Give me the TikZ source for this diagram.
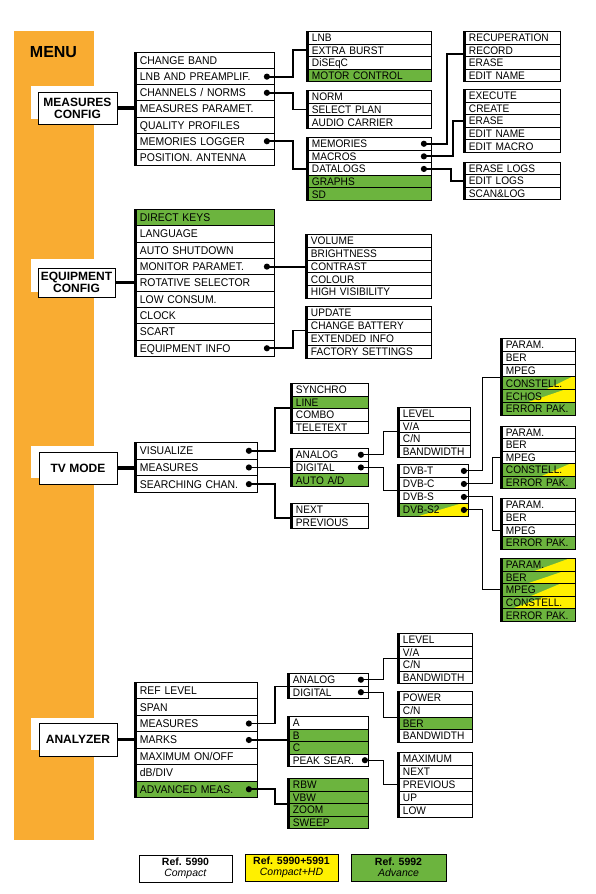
\documentclass[tikz,border=0pt]{standalone}
\usepackage{fontspec}
\setmainfont{Liberation Sans}
\newfontfamily\listfont[FakeStretch=0.93]{Liberation Sans}
\usetikzlibrary{calc}
\definecolor{orng}{RGB}{249,172,50}
\definecolor{grn}{RGB}{108,180,62}
\definecolor{ylw}{RGB}{255,240,0}
\tikzset{
  rowbox/.style={draw=black,line width=0.9pt,fill=white,anchor=north west,inner xsep=5.5pt,inner ysep=0pt,text depth=0pt,align=left},
  mainrow/.style={font=\listfont\fontsize{11.2}{11}\selectfont,text height=8pt},
  subrow/.style={font=\listfont\fontsize{10.9}{11}\selectfont,text height=7.8pt},
  wh/.style={},
  gr/.style={fill=grn},
  gy/.style 2 args={fill=grn,path picture={\fill[ylw] ($(path picture bounding box.south west)!#1!(path picture bounding box.south east)$) -- (path picture bounding box.south east) -- (path picture bounding box.north east) -- ($(path picture bounding box.north west)!#2!(path picture bounding box.north east)$) -- cycle;}},
  gyS/.style={gy={0.28}{0.9}},
  gyA/.style={gy={0.6}{0.95}},
  gyB/.style={gy={0.3}{0.8}},
  gyC/.style={gy={0.55}{0.93}},
  gyD/.style={gy={0.45}{0.92}},
  gyE/.style={gy={0.35}{0.85}},
  gyF/.style={gy={0.4}{0.8}},
  gyG/.style={gy={0.15}{0.6}},
  secbox/.style={draw=black,line width=1pt,fill=white,align=center,inner sep=0pt,font=\fontsize{12}{12}\selectfont\bfseries},
  legbox/.style={draw=black,line width=0.8pt,align=center,inner sep=0pt,minimum width=93pt,minimum height=27pt,font=\fontsize{10.5}{11}\selectfont},
  c1/.style={line width=1.8pt},
  c2/.style={line width=1pt},
  c0/.style={line width=3.5pt},
}
\newcommand\mlist[8]{%
  \pgfmathsetmacro\mytw{#4-11}%
  \foreach \rt/\rs [count=\ri] in {#8} {
    \node[rowbox,#7,\rs,minimum width=#4pt,text width=\mytw pt,minimum height=#5pt] (#1-\ri) at (#2,{#3+(\ri-1)*#5}) {\rt};
  }
  \fill (#2,#3) rectangle ({#2+3.2},{#3+#6*#5});
}
\newcommand\mydot[1]{\fill (#1) circle (3.1pt);}
\begin{document}
\begin{tikzpicture}[x=1pt,y=-1pt]
\path[use as bounding box] (0,0) rectangle (595,894);
\fill[orng] (14,31) rectangle (94,840);
\node[font=\fontsize{16}{16}\selectfont\bfseries] (menu) at (53.5,52.5) {MENU};

% ---------- MEASURES CONFIG ----------
\fill[white] (31,86) rectangle (94,119);
\node[secbox,minimum width=79pt,minimum height=32pt] (MC) at (77.5,108) {MEASURES\\CONFIG};
\mlist{ML}{134}{52}{140}{16.14}{7}{mainrow}{CHANGE BAND/wh, LNB AND PREAMPLIF./wh, {CHANNELS / NORMS}/wh, MEASURES PARAMET./wh, QUALITY PROFILES/wh, MEMORIES LOGGER/wh, POSITION. ANTENNA/wh}
\mlist{LNB}{306}{31}{125}{12.5}{4}{subrow}{LNB/wh, EXTRA BURST/wh, DiSEqC/wh, MOTOR CONTROL/gr}
\mlist{NRM}{306}{90}{125}{12.67}{3}{subrow}{NORM/wh, SELECT PLAN/wh, AUDIO CARRIER/wh}
\mlist{MEM}{306}{137}{125}{12.6}{5}{subrow}{MEMORIES/wh, MACROS/wh, DATALOGS/wh, GRAPHS/gr, SD/gr}
\mlist{REC}{463}{31}{97}{12.5}{4}{subrow}{RECUPERATION/wh, RECORD/wh, ERASE/wh, EDIT NAME/wh}
\mlist{EXE}{463}{89}{97}{12.6}{5}{subrow}{EXECUTE/wh, CREATE/wh, ERASE/wh, EDIT NAME/wh, EDIT MACRO/wh}
\mlist{ERL}{463}{162}{97}{12.33}{3}{subrow}{ERASE LOGS/wh, EDIT LOGS/wh, SCAN\&LOG/wh}
\draw[c0] (MC.east) -- (MC.east -| ML-1.west);
\coordinate (dLNB) at ([xshift=-8pt]ML-2.east);
\coordinate (dCH) at ([xshift=-8pt]ML-3.east);
\coordinate (dML) at ([xshift=-8pt]ML-6.east);
\coordinate (dMEM) at ([xshift=-8pt]MEM-1.east);
\coordinate (dMAC) at ([xshift=-8pt]MEM-2.east);
\coordinate (dDAT) at ([xshift=-8pt]MEM-3.east);
\draw[c1] (dLNB) -- ++(26,0) |- (LNB-2.west);
\draw[c1] (dCH) -- ++(26,0) |- (NRM-2.west);
\draw[c1] (dML) -- ++(26,0) |- (MEM-3.west);
\draw[c1] (dMEM) -- ++(23,0) |- ([yshift=-4pt]REC-2.west);
\draw[c1] (dMAC) -- ++(29,0) |- (EXE-3.west);
\draw[c1] (dDAT) -- ++(27,0) |- (ERL-2.west);
\mydot{dLNB}\mydot{dCH}\mydot{dML}\mydot{dMEM}\mydot{dMAC}\mydot{dDAT}

% ---------- EQUIPMENT CONFIG ----------
\fill[white] (31,259) rectangle (94,292);
\node[secbox,minimum width=77pt,minimum height=29pt] (EC) at (76.5,282.5) {EQUIPMENT\\CONFIG};
\mlist{EL}{134}{209}{140}{16.33}{9}{mainrow}{DIRECT KEYS/gr, LANGUAGE/wh, AUTO SHUTDOWN/wh, MONITOR PARAMET./wh, ROTATIVE SELECTOR/wh, LOW CONSUM./wh, CLOCK/wh, SCART/wh, EQUIPMENT INFO/wh}
\mlist{VOL}{305}{234}{126}{12.8}{5}{subrow}{VOLUME/wh, BRIGHTNESS/wh, CONTRAST/wh, COLOUR/wh, HIGH VISIBILITY/wh}
\mlist{UPD}{305}{306}{126}{13}{4}{subrow}{UPDATE/wh, CHANGE BATTERY/wh, EXTENDED INFO/wh, FACTORY SETTINGS/wh}
\draw[c0] (EC.east) -- (EC.east -| EL-1.west);
\coordinate (dMON) at ([xshift=-8pt]EL-4.east);
\coordinate (dEQ) at ([xshift=-8pt]EL-9.east);
\draw[c1] (dMON) -- (dMON -| VOL-3.west);
\draw[c1] (dEQ) -- ++(26,0) |- ([yshift=-4.5pt]UPD-2.west);
\mydot{dMON}\mydot{dEQ}

% ---------- TV MODE ----------
\fill[white] (31,446) rectangle (94,478);
\node[secbox,minimum width=78pt,minimum height=32pt] (TV) at (78,468) {TV MODE};
\mlist{TL}{134}{442}{123}{16.67}{3}{mainrow}{VISUALIZE/wh, MEASURES/wh, SEARCHING CHAN./wh}
\mlist{SYN}{290}{383}{78}{12.5}{4}{subrow}{SYNCHRO/wh, LINE/gr, COMBO/wh, TELETEXT/wh}
\mlist{ANA}{290}{448}{78}{12.67}{3}{subrow}{ANALOG/wh, DIGITAL/wh, {AUTO A/D}/gr}
\mlist{NXT}{290}{503}{78}{12.5}{2}{subrow}{NEXT/wh, PREVIOUS/wh}
\mlist{LEV}{397}{407}{73}{12.5}{4}{subrow}{LEVEL/wh, {V/A}/wh, {C/N}/wh, BANDWIDTH/wh}
\mlist{DVB}{397}{464}{71}{13}{4}{subrow}{DVB-T/wh, DVB-C/wh, DVB-S/wh, DVB-S2/gyS}
\mlist{PA}{500}{338}{75}{12.83}{6}{subrow}{PARAM./wh, BER/wh, MPEG/wh, CONSTELL./gyA, ECHOS/gyE, ERROR PAK./gr}
\mlist{PB}{500}{426}{75}{12.4}{5}{subrow}{PARAM./wh, BER/wh, MPEG/wh, CONSTELL./gyC, ERROR PAK./gr}
\mlist{PC}{500}{498}{75}{12.75}{4}{subrow}{PARAM./wh, BER/wh, MPEG/wh, ERROR PAK./gr}
\mlist{PD}{500}{558}{75}{12.6}{5}{subrow}{PARAM./gyD, BER/gyE, MPEG/gyF, CONSTELL./gyG, ERROR PAK./gr}
\draw[c0] (TV.east) -- (TV.east -| TL-1.west);
\coordinate (dVIS) at ([xshift=-9pt]TL-1.east);
\coordinate (dMEA) at ([xshift=-9pt]TL-2.east);
\coordinate (dSRC) at ([xshift=-9pt]TL-3.east);
\coordinate (dANA) at ([xshift=-8pt]ANA-1.east);
\coordinate (dDIG) at ([xshift=-8pt]ANA-2.east);
\coordinate (dT) at ([xshift=-5pt]DVB-1.east);
\coordinate (dC) at ([xshift=-5pt]DVB-2.east);
\coordinate (dS) at ([xshift=-5pt]DVB-3.east);
\coordinate (dS2) at ([xshift=-5pt]DVB-4.east);
\draw[c1] (dVIS) -- ++(26,0) |- ([yshift=1pt]SYN-2.south west);
\draw[c1] (dMEA) -- (dMEA -| ANA-2.west);
\draw[c1] (dSRC) -- ++(26,0) |- ([yshift=-1.5pt]NXT-1.south west);
\draw[c2] (dANA) -- ++(23,0) |- ([yshift=1pt]LEV-2.south west);
\draw[c2] (dDIG) -- ++(23,0) |- (DVB-3.north west);
\draw[c2] (dT) -- ++(19,0) |- (PA-3.south west);
\draw[c2] (dC) -- ++(29,0) |- (PB-3.west);
\draw[c2] (dS) -- ++(29,0) |- (PC-3.west);
\draw[c2] (dS2) -- ++(19,0) |- (PD-3.west);
\mydot{dVIS}\mydot{dMEA}\mydot{dSRC}\mydot{dANA}\mydot{dDIG}\mydot{dT}\mydot{dC}\mydot{dS}\mydot{dS2}

% ---------- ANALYZER ----------
\fill[white] (31,718) rectangle (94,750);
\node[secbox,minimum width=78pt,minimum height=33pt] (AN) at (78,739.5) {ANALYZER};
\mlist{AL}{134}{682}{123}{16.43}{7}{mainrow}{REF LEVEL/wh, SPAN/wh, MEASURES/wh, MARKS/wh, {MAXIMUM ON/OFF}/wh, {dB/DIV}/wh, ADVANCED MEAS./gr}
\mlist{AD}{287}{673}{81}{12.5}{2}{subrow}{ANALOG/wh, DIGITAL/wh}
\mlist{MK}{287}{716}{81}{12.5}{4}{subrow}{A/wh, B/gr, C/gr, PEAK SEAR./wh}
\mlist{RB}{287}{778}{81}{12.5}{4}{subrow}{RBW/gr, VBW/gr, ZOOM/gr, SWEEP/gr}
\mlist{LW}{397}{633}{75}{12.5}{4}{subrow}{LEVEL/wh, {V/A}/wh, {C/N}/wh, BANDWIDTH/wh}
\mlist{PW}{397}{691}{75}{12.75}{4}{subrow}{POWER/wh, {C/N}/wh, BER/gr, BANDWIDTH/wh}
\mlist{MX}{397}{752}{75}{13}{5}{subrow}{MAXIMUM/wh, NEXT/wh, PREVIOUS/wh, UP/wh, LOW/wh}
\draw[c0] (AN.east) -- (AN.east -| AL-1.west);
\coordinate (dAM) at ([xshift=-9pt]AL-3.east);
\coordinate (dMK) at ([xshift=-9pt]AL-4.east);
\coordinate (dAV) at ([xshift=-9pt]AL-7.east);
\coordinate (dAA) at ([xshift=-8pt]AD-1.east);
\coordinate (dAG) at ([xshift=-8pt]AD-2.east);
\coordinate (dPK) at ([xshift=-4pt]MK-4.east);
\draw[c1] (dAM) -- ++(26,0) |- (AD-1.south west);
\draw[c1] (dMK) -- (dMK -| MK-2.west);
\draw[c1] (dAV) -- ++(26,0) |- (RB-2.south west);
\draw[c2] (dAA) -- ++(23,0) |- (LW-2.south west);
\draw[c2] (dAG) -- ++(23,0) |- (PW-2.south west);
\draw[c2] (dPK) -- ++(19,0) |- (MX-3.west);
\mydot{dAM}\mydot{dMK}\mydot{dAV}\mydot{dAA}\mydot{dAG}\mydot{dPK}

% ---------- LEGEND ----------
\node[legbox,fill=white] (L1) at (185.5,868.5) {\textbf{Ref. 5990}\\\textit{Compact}};
\node[legbox,fill=ylw] (L2) at (291.5,867.5) {\textbf{Ref. 5990+5991}\\\textit{Compact+HD}};
\node[legbox,fill=grn,minimum width=95pt] (L3) at (398.5,867.5) {\textbf{Ref. 5992}\\\textit{Advance}};
\end{tikzpicture}
\end{document}
